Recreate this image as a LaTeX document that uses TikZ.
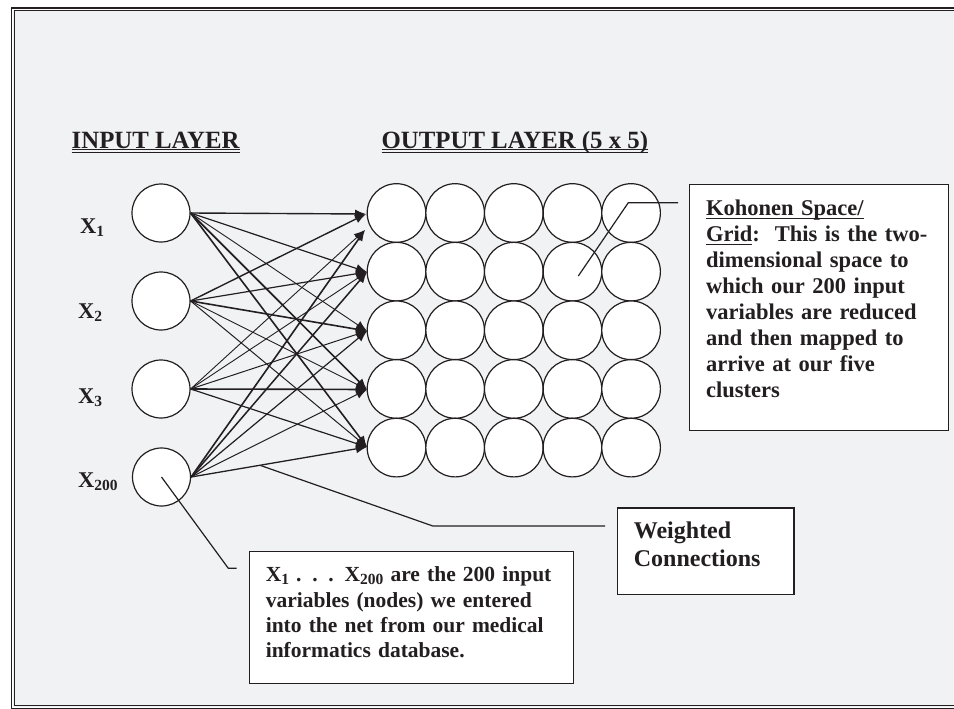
\documentclass[tikz,border=0pt]{standalone}
\usepackage{fontspec}
\setmainfont{Liberation Serif}
\usetikzlibrary{arrows.meta,calc}
\definecolor{bg}{HTML}{F1F2F4}
\definecolor{ink}{HTML}{231F20}
\newlength\ulw
\newcommand\myul[1]{\leavevmode\settowidth{\ulw}{#1}\rlap{\rule[-3.5pt]{\ulw}{1.2pt}}#1}
\newcommand\mydul[1]{\leavevmode\settowidth{\ulw}{#1}\rlap{\rule[-2.2pt]{\ulw}{1.1pt}}\rlap{\rule[-5.2pt]{\ulw}{1.1pt}}#1}
\newcommand\sbx[1]{\raisebox{-3pt}{\fontsize{15.5}{15.5}\selectfont #1}}
\tikzset{
  inp/.style={circle,draw=ink,fill=white,line width=1.2pt,minimum size=58pt,inner sep=0pt},
  outp/.style={circle,draw=ink,fill=white,line width=1.2pt,minimum size=58.6pt,inner sep=0pt},
  lbl/.style={font=\fontsize{22.5}{26}\selectfont\bfseries,text=ink,inner sep=0pt,anchor=base west},
  head/.style={font=\fontsize{24.8}{28}\selectfont\bfseries,text=ink,inner sep=0pt,anchor=base west},
  boxframe/.style={draw=ink,fill=white,line width=1.3pt,inner sep=0pt,anchor=north west},
  boxtext/.style={text=ink,inner sep=0pt,anchor=north west,align=left},
  conn/.style={draw=ink,-{Latex[length=11pt,width=9pt]}},
  callout/.style={draw=ink,line width=1.2pt},
}
\begin{document}
\begin{tikzpicture}[x=1pt,y=-1pt]
\useasboundingbox (0,0) rectangle (954,709);
\begin{scope}
\clip (0,0) rectangle (954,709);
\fill[white] (0,0) rectangle (954,709);
\fill[bg] (13,10) rectangle (970,707);
\draw[ink,line width=1.2pt] (11.3,8) rectangle (975,708.3);
\draw[ink,line width=1.0pt] (14,10.8) rectangle (972,705.8);
\end{scope}

% headings
\node[head] (hin) at (71.5,148) {\mydul{INPUT LAYER}};
\node[head] (hout) at (381.5,148) {\mydul{OUTPUT LAYER (5 x 5)}};

% input nodes
\node[inp] (in1) at (161,213) {};
\node[inp] (in2) at (161,301) {};
\node[inp] (in3) at (161,389) {};
\node[inp] (in4) at (161.5,477) {};
\node[lbl] (l1) at (80,233) {X\sbx{1}};
\node[lbl] (l2) at (78,318) {X\sbx{2}};
\node[lbl] (l3) at (78,403) {X\sbx{3}};
\node[lbl] (l4) at (78,487) {X\sbx{200}};

% output grid
\foreach \r in {1,...,5}{
  \foreach \c in {1,...,5}{
    \node[outp] (o\r\c) at ({396.5+(\c-1)*58.65},{213+(\r-1)*58.65}) {};
  }
}

% arrow targets
\coordinate (ta) at (366,214);
\coordinate (tb) at (365,230);
\coordinate (t2) at (367,272);
\coordinate (t3) at (367,331);
\coordinate (t4) at (367,389.5);
\coordinate (t5) at (367,447);

% weighted connections
\draw[conn,line width=1.4pt] (in1.east) -- (ta);
\draw[conn,line width=1.2pt] (in1.east) -- (t2);
\draw[conn,line width=0.9pt] (in1.east) -- (t3);
\draw[conn,line width=1.7pt] (in1.east) -- (t4);
\draw[conn,line width=1.6pt] (in1.east) -- (t5);
\draw[conn,line width=1.4pt] (in2.east) -- (ta);
\draw[conn,line width=1.2pt] (in2.east) -- (t2);
\draw[conn,line width=1.6pt] (in2.east) -- (t3);
\draw[conn,line width=0.9pt] (in2.east) -- (t4);
\draw[conn,line width=1.0pt] (in2.east) -- (t5);
\draw[conn,line width=0.9pt] (in3.east) -- (tb);
\draw[conn,line width=0.9pt] (in3.east) -- (t2);
\draw[conn,line width=1.0pt] (in3.east) -- (t3);
\draw[conn,line width=1.6pt] (in3.east) -- (t4);
\draw[conn,line width=1.2pt] (in3.east) -- (t5);
\draw[conn,line width=1.6pt] (in4.east) -- (tb);
\draw[conn,line width=1.5pt] (in4.east) -- (t2);
\draw[conn,line width=1.2pt] (in4.east) -- (t3);
\draw[conn,line width=1.0pt] (in4.east) -- (t4);
\draw[conn,line width=1.3pt] (in4.east) -- (t5);

% Kohonen box
\node[boxframe,minimum width=259pt,minimum height=246pt] (kbox) at (689,184) {};
\node[boxtext,font=\fontsize{22.5}{26}\selectfont\bfseries,text width=236pt] (ktext) at (706,196.8)
 {\strut\myul{Kohonen Space/}\\
  \myul{Grid}:\ \ This is the two-\\
  dimensional space to\\
  which our 200 input\\
  variables are reduced\\
  and then mapped to\\
  arrive at our five\\
  clusters};
\coordinate (k0) at (578.3,276);
\coordinate (k1) at (628.3,202.7);
\coordinate (k2) at (678,202.7);
\draw[callout] (k0) -- (k1) -- (k2);

% Weighted box
\node[boxframe,minimum width=176.8pt,minimum height=86.7pt] (wbox) at (616.5,507.3) {};
\node[boxtext,font=\fontsize{24}{28.4}\selectfont\bfseries,text width=150pt] (wtext) at (633.7,518.1)
 {\strut Weighted\\Connections};
\coordinate (w0) at (260.6,465.5);
\coordinate (w1) at (432.8,526);
\coordinate (w2) at (605,526);
\draw[callout] (w0) -- (w1) -- (w2);

% X box
\node[boxframe,minimum width=323.5pt,minimum height=132pt] (xbox) at (249,550.7) {};
\node[boxtext,font=\fontsize{21.5}{25.2}\selectfont\bfseries,text width=300pt] (xtext) at (265.6,564.1)
 {\strut X\sbx{1} . . . X\sbx{200} are the 200 input\\
  variables (nodes) we entered\\
  into the net from our medical\\
  informatics database.};
\coordinate (x1) at (228.3,568.3);
\coordinate (x2) at (236.7,568.3);
\draw[callout] (in4.center) -- (x1) -- (x2);
\end{tikzpicture}
\end{document}
